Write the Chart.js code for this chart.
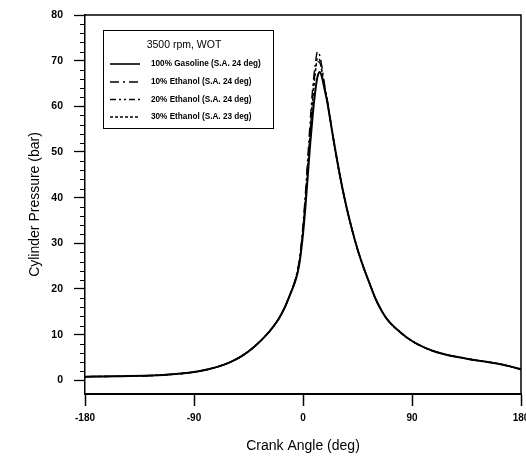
<!DOCTYPE html>
<html>
<head>
<meta charset="utf-8">
<script src="https://cdn.jsdelivr.net/npm/chart.js@4.4.1/dist/chart.umd.min.js"></script>
<style>
  html, body { margin: 0; padding: 0; background: #fff; }
  #wrap { width: 526px; height: 459px; position: relative; }
</style>
</head>
<body>
<div id="wrap"><canvas id="c" width="526" height="459"></canvas></div>
<script>
const crankAngle = [-180,-150,-120,-100,-90,-80,-70,-60,-50,-40,-30,-25,-20,-15,-10,-6,-3,0,2,4,6,8,10,12,14,16,18,20,25,30,35,40,45,50,55,60,65,70,80,90,100,110,120,130,140,150,160,170,180];
const gasoline100 = [0.8,0.9,1.1,1.5,1.8,2.3,3.0,4.0,5.4,7.4,10.0,11.6,13.5,16.0,19.2,22.0,25.5,32,38,45,52,58,63,66.5,67.5,66,63.5,61,53,45.5,39,33.5,28.7,24.7,21.2,17.8,15.2,13.2,10.6,8.6,7.2,6.2,5.5,5.0,4.5,4.1,3.7,3.1,2.4];
const ethanol10 = [0.8,0.9,1.1,1.5,1.8,2.3,3.0,4.0,5.4,7.4,10.0,11.6,13.5,16.0,19.3,22.5,26.5,34,41,49,57,64,69,72,71,68,64.5,61.5,53,45.5,39,33.5,28.7,24.7,21.2,17.8,15.2,13.2,10.6,8.6,7.2,6.2,5.5,5.0,4.5,4.1,3.7,3.1,2.4];
const ethanol20 = [0.8,0.9,1.1,1.5,1.8,2.3,3.0,4.0,5.4,7.4,10.0,11.6,13.5,16.0,19.3,22.3,26,33.5,40,47.5,55,62,67.5,69.8,69.5,67,64,61.2,53,45.5,39,33.5,28.7,24.7,21.2,17.8,15.2,13.2,10.6,8.6,7.2,6.2,5.5,5.0,4.5,4.1,3.7,3.1,2.4];
const ethanol30 = [0.8,0.9,1.1,1.5,1.8,2.3,3.0,4.0,5.4,7.4,10.0,11.6,13.5,16.0,19.3,22.2,25.8,33,39.5,47,54.5,61.5,67,70.5,70,67,64,61,53,45.5,39,33.5,28.7,24.7,21.2,17.8,15.2,13.2,10.6,8.6,7.2,6.2,5.5,5.0,4.5,4.1,3.7,3.1,2.4];
const seriesLabels = ["100% Gasoline (S.A. 24 deg)","10% Ethanol (S.A. 24 deg)","20% Ethanol (S.A. 24 deg)","30% Ethanol (S.A. 23 deg)"];
const legendTitle = "3500 rpm, WOT";
const xTicks = [-180,-90,0,90,180];
const yTicks = [0,10,20,30,40,50,60,70,80];
const xTitle = "Crank Angle (deg)";
const yTitle = "Cylinder Pressure (bar)";

const seriesValues = [gasoline100, ethanol10, ethanol20, ethanol30];
const dashes = [[], [9,4,2,4], [6,3,2,3,2,3], [3,2]];
const widths = [2, 1.4, 1.4, 1.4];

const tickFont = "'Liberation Sans Narrow', 'Arial Narrow', 'Liberation Sans', sans-serif";

const datasets = seriesValues.map((vals, i) => ({
  label: seriesLabels[i],
  data: crankAngle.map((a, j) => ({x: a, y: vals[j]})),
  borderColor: '#000',
  borderWidth: widths[i],
  borderDash: dashes[i],
  pointRadius: 0,
  fill: false,
  cubicInterpolationMode: 'monotone'
})).reverse();

const decor = {
  id: 'decor',
  afterDraw(chart) {
    const ctx = chart.ctx;
    const a = chart.chartArea;
    const ys = chart.scales.y;
    ctx.save();
    ctx.strokeStyle = '#000';
    ctx.lineWidth = 1.5;
    ctx.beginPath();
    ctx.moveTo(a.left, a.top);
    ctx.lineTo(a.right, a.top);
    ctx.lineTo(a.right, a.bottom);
    ctx.stroke();
    ctx.lineWidth = 1.2;
    ctx.beginPath();
    for (let v = 2; v < 80; v += 2) {
      if (v % 10 === 0) continue;
      const py = Math.round(ys.getPixelForValue(v)) + 0.5;
      ctx.moveTo(a.left - 5, py);
      ctx.lineTo(a.left, py);
    }
    ctx.stroke();
    const bx = 103.5, by = 30.5, bw = 170, bh = 98;
    ctx.fillStyle = '#fff';
    ctx.fillRect(bx, by, bw, bh);
    ctx.lineWidth = 1;
    ctx.strokeRect(bx, by, bw, bh);
    ctx.fillStyle = '#000';
    ctx.font = "10.5px 'Liberation Sans', Arial, sans-serif";
    ctx.textAlign = 'center';
    ctx.textBaseline = 'middle';
    ctx.fillText(legendTitle, 184, 45);
    ctx.textAlign = 'left';
    ctx.font = "bold 8.2px 'Liberation Sans', Arial, sans-serif";
    const rows = [64, 82, 99.5, 117];
    for (let i = 0; i < 4; i++) {
      ctx.lineWidth = widths[i] === 2 ? 1.6 : 1.3;
      ctx.setLineDash(dashes[i]);
      ctx.beginPath();
      ctx.moveTo(110, rows[i]);
      ctx.lineTo(140, rows[i]);
      ctx.stroke();
      ctx.setLineDash([]);
      ctx.fillText(seriesLabels[i], 151, rows[i]);
    }
    ctx.restore();
  }
};

new Chart(document.getElementById('c'), {
  type: 'line',
  data: { datasets },
  options: {
    responsive: false,
    animation: false,
    layout: { autoPadding: false, padding: { top: 15, right: 5, left: 0, bottom: 0 } },
    plugins: { legend: { display: false }, tooltip: { enabled: false } },
    scales: {
      x: {
        type: 'linear',
        min: -180, max: 180,
        afterBuildTicks(s) { s.ticks = xTicks.map(v => ({value: v})); },
        afterFit(s) { s.height = 65; s.paddingLeft = 0; s.paddingRight = 0; },
        grid: { drawOnChartArea: false, drawTicks: true, tickLength: 12, tickColor: '#000', tickWidth: 1.5 },
        border: { display: true, color: '#000', width: 2 },
        ticks: { color: '#000', padding: 6, maxRotation: 0, font: { family: tickFont, size: 10, weight: 'bold' } },
        title: { display: true, text: xTitle, color: '#000', font: { family: "'Liberation Sans', Arial, sans-serif", size: 14 }, padding: { top: 8 } }
      },
      y: {
        type: 'linear',
        min: -3, max: 80,
        afterBuildTicks(s) { s.ticks = yTicks.map(v => ({value: v})); },
        afterFit(s) { s.width = 85; s.paddingTop = 0; s.paddingBottom = 0; },
        grid: { drawOnChartArea: false, drawTicks: true, tickLength: 11, tickColor: '#000', tickWidth: 1.3 },
        border: { display: true, color: '#000', width: 1.5 },
        ticks: { color: '#000', padding: 11, font: { family: tickFont, size: 10.5, weight: 'bold' } },
        title: { display: true, text: yTitle, color: '#000', font: { family: "'Liberation Sans', Arial, sans-serif", size: 14 }, padding: { top: 27, bottom: 4 } }
      }
    }
  },
  plugins: [decor]
});
</script>
</body>
</html>
